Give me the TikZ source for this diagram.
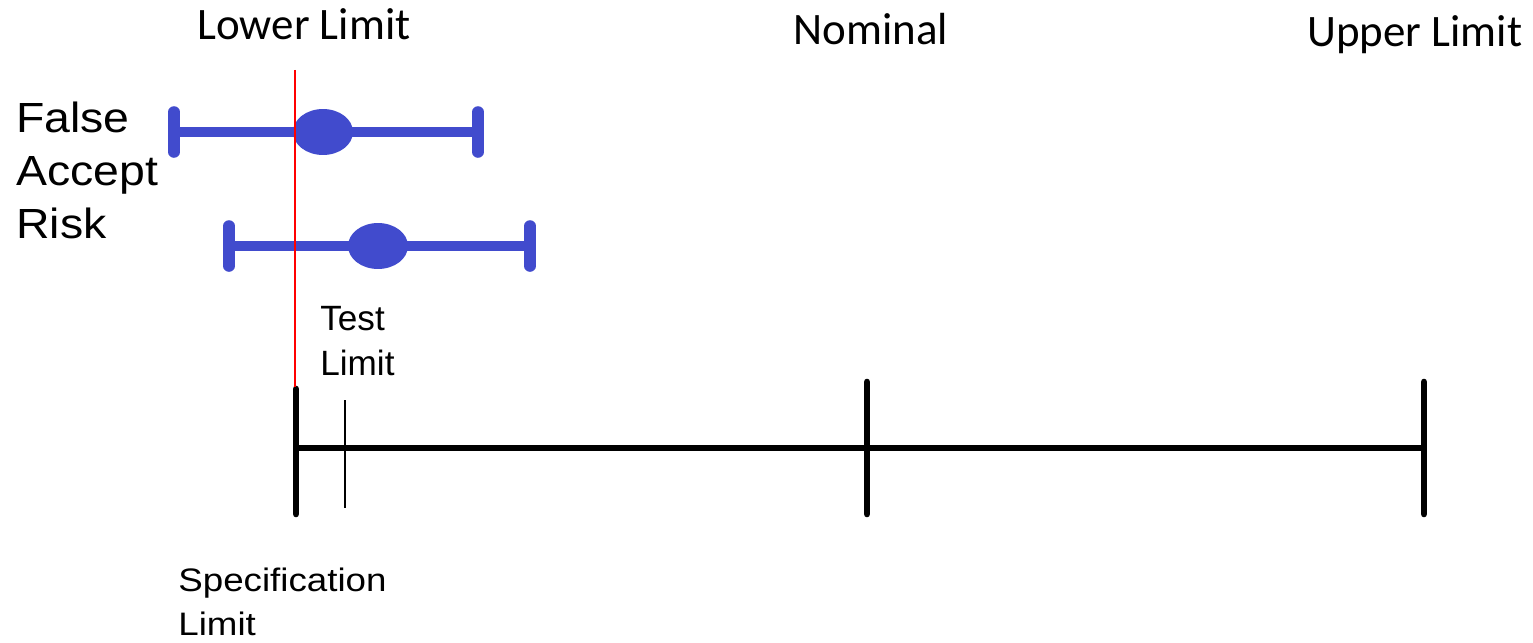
\documentclass[tikz,border=0pt]{standalone}
\usepackage{fontspec}
\newfontfamily\calfont{Carlito}
\newfontfamily\arialfont{Liberation Sans}
\newfontfamily\riskfont[FakeStretch=1.1]{Liberation Sans}
\newfontfamily\specfont[FakeStretch=1.13]{Liberation Sans}
\definecolor{barblue}{RGB}{65,75,205}
\tikzset{
  limitlabel/.style={inner sep=0pt, anchor=base, font=\calfont\fontsize{25.6}{30}\selectfont},
  notelabel/.style={inner sep=0pt, align=left, anchor=base west},
  axistick/.style={line width=3.8pt, line cap=round},
  errline/.style={barblue, line width=5.8pt},
  errcap/.style={barblue, line width=6.6pt, line cap=round},
}
\begin{document}
\begin{tikzpicture}[x=0.02cm, y=-0.02cm]
\useasboundingbox (0,0) rectangle (1533,642);

% limit names
\node[limitlabel] (lower) at (304,40) {Lower Limit};
\node[limitlabel] (nominal) at (871,45) {Nominal};
\node[limitlabel, anchor=base west] (upper) at (1307,47) {Upper Limit};

% base of a multi-line node is its last line
\node[notelabel, font=\riskfont\fontsize{24}{29.9}\selectfont] (risk) at (16,238) {False\\Accept\\Risk};
\node[notelabel, font=\arialfont\fontsize{20}{25.6}\selectfont] (testlbl) at (320,375) {Test\\Limit};
\node[notelabel, font=\specfont\fontsize{18.5}{24.5}\selectfont] (speclbl) at (178,635) {Specification\\Limit};

% axis
\coordinate (lo) at (296,448);
\coordinate (mid) at (867,448);
\coordinate (hi) at (1424,448);
\draw[line width=3.4pt] (lo) -- (hi);
\draw[axistick] ([yshift=-1.32cm]lo) -- ([yshift=1.18cm]lo);
\draw[axistick] ([yshift=-1.32cm]mid) -- ([yshift=1.32cm]mid);
\draw[axistick] ([yshift=-1.32cm]hi) -- ([yshift=1.32cm]hi);
\coordinate (test) at (345,448);
\draw[line width=1.1pt] ([yshift=-1.2cm]test) -- ([yshift=0.96cm]test);

% measurements with uncertainty
\foreach \lft/\est/\rgt/\yy in {174/323/478/132, 229/378/530/246} {
  \draw[errline] (\lft,\yy) -- (\rgt,\yy);
  \draw[errcap] (\lft,\yy-20) -- (\lft,\yy+20);
  \draw[errcap] (\rgt,\yy-20) -- (\rgt,\yy+20);
  \fill[barblue] (\est,\yy) ellipse [x radius=0.6cm, y radius=0.46cm];
}

% lower limit
\draw[red, line width=1.6pt] (295,70) -- (295,387);
\end{tikzpicture}
\end{document}
